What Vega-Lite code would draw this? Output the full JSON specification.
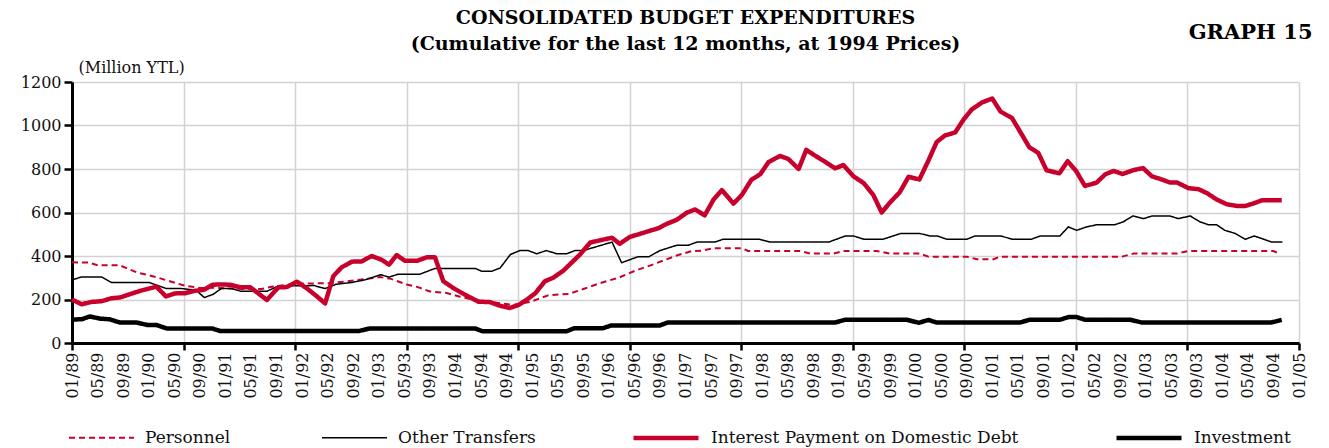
{
  "$schema": "https://vega.github.io/schema/vega-lite/v6.json",
  "width": 1227,
  "height": 261,
  "autosize": {"type": "none"},
  "padding": {"left": 72, "top": 82, "right": 30, "bottom": 105},
  "background": "white",
  "config": {"view": {"stroke": null}, "font": "DejaVu Serif"},
  "title": {
    "text": ["CONSOLIDATED BUDGET EXPENDITURES", "(Cumulative for the last 12 months, at 1994 Prices)"],
    "font": "DejaVu Serif", "fontSize": 19, "fontWeight": "bold", "color": "black",
    "anchor": "middle", "offset": -33, "lineHeight": 26
  },
  "data": {"values": [
    {"s":"Personnel","m":0,"v":371},{"s":"Personnel","m":2.6,"v":370},{"s":"Personnel","m":4.1,"v":357},{"s":"Personnel","m":7.5,"v":357},{"s":"Personnel","m":10.1,"v":325},{"s":"Personnel","m":12.9,"v":305},{"s":"Personnel","m":15.3,"v":284},{"s":"Personnel","m":17.6,"v":264},{"s":"Personnel","m":20.0,"v":253},{"s":"Personnel","m":22.4,"v":254},{"s":"Personnel","m":25.5,"v":249},{"s":"Personnel","m":29.6,"v":248},{"s":"Personnel","m":31.5,"v":260},{"s":"Personnel","m":35.8,"v":273},{"s":"Personnel","m":40.4,"v":275},{"s":"Personnel","m":44.6,"v":289},{"s":"Personnel","m":48.2,"v":303},{"s":"Personnel","m":49.9,"v":295},{"s":"Personnel","m":52.5,"v":268},{"s":"Personnel","m":54.0,"v":258},{"s":"Personnel","m":56.0,"v":237},{"s":"Personnel","m":58.6,"v":230},{"s":"Personnel","m":60.7,"v":213},{"s":"Personnel","m":62.8,"v":199},{"s":"Personnel","m":65.4,"v":188},{"s":"Personnel","m":69.0,"v":175},{"s":"Personnel","m":71.6,"v":188},{"s":"Personnel","m":74.5,"v":219},{"s":"Personnel","m":77.8,"v":226},{"s":"Personnel","m":80.0,"v":248},{"s":"Personnel","m":82.6,"v":275},{"s":"Personnel","m":85.7,"v":302},{"s":"Personnel","m":87.9,"v":330},{"s":"Personnel","m":91.0,"v":362},{"s":"Personnel","m":94.6,"v":402},{"s":"Personnel","m":97.0,"v":423},{"s":"Personnel","m":98.5,"v":424},{"s":"Personnel","m":100.4,"v":436},{"s":"Personnel","m":104.8,"v":436},{"s":"Personnel","m":105.8,"v":423},{"s":"Personnel","m":113.9,"v":423},{"s":"Personnel","m":115.5,"v":411},{"s":"Personnel","m":119.1,"v":411},{"s":"Personnel","m":120.7,"v":423},{"s":"Personnel","m":125.9,"v":423},{"s":"Personnel","m":128.0,"v":411},{"s":"Personnel","m":132.7,"v":411},{"s":"Personnel","m":134.0,"v":397},{"s":"Personnel","m":140.0,"v":397},{"s":"Personnel","m":141.6,"v":385},{"s":"Personnel","m":144.2,"v":385},{"s":"Personnel","m":145.2,"v":397},{"s":"Personnel","m":164.3,"v":397},{"s":"Personnel","m":166.1,"v":411},{"s":"Personnel","m":172.9,"v":411},{"s":"Personnel","m":174.7,"v":423},{"s":"Personnel","m":188.0,"v":423},{"s":"Personnel","m":189.0,"v":408},

    {"s":"Other Transfers","m":0,"v":290},{"s":"Other Transfers","m":1.5,"v":304},{"s":"Other Transfers","m":4.6,"v":304},{"s":"Other Transfers","m":6.2,"v":278},{"s":"Other Transfers","m":12.1,"v":278},{"s":"Other Transfers","m":14.7,"v":251},{"s":"Other Transfers","m":16.9,"v":251},{"s":"Other Transfers","m":18.8,"v":245},{"s":"Other Transfers","m":19.6,"v":238},{"s":"Other Transfers","m":20.7,"v":209},{"s":"Other Transfers","m":22.1,"v":224},{"s":"Other Transfers","m":23.4,"v":251},{"s":"Other Transfers","m":24.9,"v":251},{"s":"Other Transfers","m":26.4,"v":238},{"s":"Other Transfers","m":30.5,"v":238},{"s":"Other Transfers","m":32.3,"v":262},{"s":"Other Transfers","m":37.9,"v":264},{"s":"Other Transfers","m":39.6,"v":250},{"s":"Other Transfers","m":41.3,"v":270},{"s":"Other Transfers","m":43.7,"v":278},{"s":"Other Transfers","m":45.8,"v":290},{"s":"Other Transfers","m":48.3,"v":314},{"s":"Other Transfers","m":49.6,"v":303},{"s":"Other Transfers","m":51.0,"v":316},{"s":"Other Transfers","m":54.4,"v":316},{"s":"Other Transfers","m":56.8,"v":343},{"s":"Other Transfers","m":63.1,"v":343},{"s":"Other Transfers","m":64.1,"v":330},{"s":"Other Transfers","m":65.7,"v":330},{"s":"Other Transfers","m":67.0,"v":345},{"s":"Other Transfers","m":68.6,"v":407},{"s":"Other Transfers","m":70.1,"v":425},{"s":"Other Transfers","m":71.4,"v":425},{"s":"Other Transfers","m":72.7,"v":410},{"s":"Other Transfers","m":74.2,"v":425},{"s":"Other Transfers","m":75.9,"v":410},{"s":"Other Transfers","m":77.4,"v":410},{"s":"Other Transfers","m":78.7,"v":425},{"s":"Other Transfers","m":80.0,"v":425},{"s":"Other Transfers","m":84.5,"v":464},{"s":"Other Transfers","m":86.0,"v":369},{"s":"Other Transfers","m":88.6,"v":397},{"s":"Other Transfers","m":90.3,"v":397},{"s":"Other Transfers","m":92.0,"v":425},{"s":"Other Transfers","m":94.6,"v":449},{"s":"Other Transfers","m":96.4,"v":449},{"s":"Other Transfers","m":97.8,"v":464},{"s":"Other Transfers","m":100.6,"v":464},{"s":"Other Transfers","m":101.9,"v":477},{"s":"Other Transfers","m":107.6,"v":477},{"s":"Other Transfers","m":109.2,"v":464},{"s":"Other Transfers","m":118.4,"v":464},{"s":"Other Transfers","m":121.0,"v":492},{"s":"Other Transfers","m":122.3,"v":492},{"s":"Other Transfers","m":123.9,"v":477},{"s":"Other Transfers","m":126.9,"v":477},{"s":"Other Transfers","m":129.6,"v":503},{"s":"Other Transfers","m":132.7,"v":503},{"s":"Other Transfers","m":134.3,"v":492},{"s":"Other Transfers","m":135.4,"v":492},{"s":"Other Transfers","m":136.9,"v":477},{"s":"Other Transfers","m":140.0,"v":477},{"s":"Other Transfers","m":141.3,"v":492},{"s":"Other Transfers","m":145.3,"v":492},{"s":"Other Transfers","m":147.2,"v":477},{"s":"Other Transfers","m":150.1,"v":477},{"s":"Other Transfers","m":151.5,"v":492},{"s":"Other Transfers","m":154.6,"v":492},{"s":"Other Transfers","m":155.9,"v":534},{"s":"Other Transfers","m":157.2,"v":518},{"s":"Other Transfers","m":158.8,"v":534},{"s":"Other Transfers","m":160.4,"v":544},{"s":"Other Transfers","m":163.2,"v":544},{"s":"Other Transfers","m":164.5,"v":557},{"s":"Other Transfers","m":166.0,"v":584},{"s":"Other Transfers","m":167.7,"v":572},{"s":"Other Transfers","m":169.0,"v":584},{"s":"Other Transfers","m":171.8,"v":584},{"s":"Other Transfers","m":173.1,"v":572},{"s":"Other Transfers","m":175.0,"v":584},{"s":"Other Transfers","m":176.5,"v":557},{"s":"Other Transfers","m":177.8,"v":544},{"s":"Other Transfers","m":179.1,"v":544},{"s":"Other Transfers","m":180.4,"v":518},{"s":"Other Transfers","m":182.0,"v":504},{"s":"Other Transfers","m":183.6,"v":477},{"s":"Other Transfers","m":185.0,"v":492},{"s":"Other Transfers","m":186.5,"v":477},{"s":"Other Transfers","m":187.7,"v":464},{"s":"Other Transfers","m":189.4,"v":464},

    {"s":"Interest Payment on Domestic Debt","m":0,"v":200},{"s":"Interest Payment on Domestic Debt","m":1.5,"v":178},{"s":"Interest Payment on Domestic Debt","m":3.1,"v":189},{"s":"Interest Payment on Domestic Debt","m":4.6,"v":192},{"s":"Interest Payment on Domestic Debt","m":6.2,"v":206},{"s":"Interest Payment on Domestic Debt","m":7.5,"v":209},{"s":"Interest Payment on Domestic Debt","m":9.1,"v":225},{"s":"Interest Payment on Domestic Debt","m":10.6,"v":239},{"s":"Interest Payment on Domestic Debt","m":11.9,"v":249},{"s":"Interest Payment on Domestic Debt","m":13.2,"v":259},{"s":"Interest Payment on Domestic Debt","m":14.7,"v":214},{"s":"Interest Payment on Domestic Debt","m":16.1,"v":228},{"s":"Interest Payment on Domestic Debt","m":17.7,"v":229},{"s":"Interest Payment on Domestic Debt","m":19.2,"v":240},{"s":"Interest Payment on Domestic Debt","m":20.6,"v":244},{"s":"Interest Payment on Domestic Debt","m":22.0,"v":268},{"s":"Interest Payment on Domestic Debt","m":23.4,"v":269},{"s":"Interest Payment on Domestic Debt","m":24.7,"v":268},{"s":"Interest Payment on Domestic Debt","m":26.3,"v":256},{"s":"Interest Payment on Domestic Debt","m":27.9,"v":256},{"s":"Interest Payment on Domestic Debt","m":30.5,"v":198},{"s":"Interest Payment on Domestic Debt","m":32.3,"v":256},{"s":"Interest Payment on Domestic Debt","m":33.6,"v":257},{"s":"Interest Payment on Domestic Debt","m":35.2,"v":282},{"s":"Interest Payment on Domestic Debt","m":36.7,"v":252},{"s":"Interest Payment on Domestic Debt","m":38.3,"v":215},{"s":"Interest Payment on Domestic Debt","m":39.6,"v":182},{"s":"Interest Payment on Domestic Debt","m":40.9,"v":308},{"s":"Interest Payment on Domestic Debt","m":42.2,"v":348},{"s":"Interest Payment on Domestic Debt","m":43.8,"v":374},{"s":"Interest Payment on Domestic Debt","m":45.3,"v":375},{"s":"Interest Payment on Domestic Debt","m":46.9,"v":400},{"s":"Interest Payment on Domestic Debt","m":48.5,"v":382},{"s":"Interest Payment on Domestic Debt","m":49.6,"v":360},{"s":"Interest Payment on Domestic Debt","m":50.8,"v":404},{"s":"Interest Payment on Domestic Debt","m":52.1,"v":378},{"s":"Interest Payment on Domestic Debt","m":54.0,"v":378},{"s":"Interest Payment on Domestic Debt","m":55.5,"v":394},{"s":"Interest Payment on Domestic Debt","m":56.8,"v":394},{"s":"Interest Payment on Domestic Debt","m":58.1,"v":284},{"s":"Interest Payment on Domestic Debt","m":59.7,"v":252},{"s":"Interest Payment on Domestic Debt","m":61.5,"v":222},{"s":"Interest Payment on Domestic Debt","m":63.6,"v":190},{"s":"Interest Payment on Domestic Debt","m":65.4,"v":188},{"s":"Interest Payment on Domestic Debt","m":67.0,"v":171},{"s":"Interest Payment on Domestic Debt","m":68.5,"v":161},{"s":"Interest Payment on Domestic Debt","m":69.9,"v":175},{"s":"Interest Payment on Domestic Debt","m":71.2,"v":200},{"s":"Interest Payment on Domestic Debt","m":72.5,"v":229},{"s":"Interest Payment on Domestic Debt","m":74.0,"v":284},{"s":"Interest Payment on Domestic Debt","m":75.3,"v":300},{"s":"Interest Payment on Domestic Debt","m":76.9,"v":333},{"s":"Interest Payment on Domestic Debt","m":78.2,"v":370},{"s":"Interest Payment on Domestic Debt","m":79.5,"v":407},{"s":"Interest Payment on Domestic Debt","m":81.1,"v":462},{"s":"Interest Payment on Domestic Debt","m":82.6,"v":472},{"s":"Interest Payment on Domestic Debt","m":84.5,"v":484},{"s":"Interest Payment on Domestic Debt","m":85.7,"v":456},{"s":"Interest Payment on Domestic Debt","m":87.3,"v":488},{"s":"Interest Payment on Domestic Debt","m":88.9,"v":502},{"s":"Interest Payment on Domestic Debt","m":90.2,"v":514},{"s":"Interest Payment on Domestic Debt","m":91.8,"v":528},{"s":"Interest Payment on Domestic Debt","m":93.0,"v":547},{"s":"Interest Payment on Domestic Debt","m":94.6,"v":566},{"s":"Interest Payment on Domestic Debt","m":96.2,"v":599},{"s":"Interest Payment on Domestic Debt","m":97.5,"v":614},{"s":"Interest Payment on Domestic Debt","m":99.0,"v":587},{"s":"Interest Payment on Domestic Debt","m":100.4,"v":660},{"s":"Interest Payment on Domestic Debt","m":101.7,"v":703},{"s":"Interest Payment on Domestic Debt","m":103.5,"v":641},{"s":"Interest Payment on Domestic Debt","m":104.8,"v":680},{"s":"Interest Payment on Domestic Debt","m":106.3,"v":750},{"s":"Interest Payment on Domestic Debt","m":107.7,"v":776},{"s":"Interest Payment on Domestic Debt","m":109.0,"v":832},{"s":"Interest Payment on Domestic Debt","m":110.8,"v":860},{"s":"Interest Payment on Domestic Debt","m":112.1,"v":846},{"s":"Interest Payment on Domestic Debt","m":113.7,"v":800},{"s":"Interest Payment on Domestic Debt","m":114.9,"v":888},{"s":"Interest Payment on Domestic Debt","m":116.3,"v":861},{"s":"Interest Payment on Domestic Debt","m":117.8,"v":834},{"s":"Interest Payment on Domestic Debt","m":119.4,"v":803},{"s":"Interest Payment on Domestic Debt","m":120.7,"v":818},{"s":"Interest Payment on Domestic Debt","m":122.3,"v":766},{"s":"Interest Payment on Domestic Debt","m":123.9,"v":735},{"s":"Interest Payment on Domestic Debt","m":125.4,"v":680},{"s":"Interest Payment on Domestic Debt","m":126.7,"v":600},{"s":"Interest Payment on Domestic Debt","m":128.0,"v":646},{"s":"Interest Payment on Domestic Debt","m":129.5,"v":692},{"s":"Interest Payment on Domestic Debt","m":130.9,"v":764},{"s":"Interest Payment on Domestic Debt","m":132.6,"v":752},{"s":"Interest Payment on Domestic Debt","m":134.0,"v":838},{"s":"Interest Payment on Domestic Debt","m":135.3,"v":924},{"s":"Interest Payment on Domestic Debt","m":136.6,"v":954},{"s":"Interest Payment on Domestic Debt","m":138.2,"v":968},{"s":"Interest Payment on Domestic Debt","m":139.5,"v":1027},{"s":"Interest Payment on Domestic Debt","m":140.8,"v":1074},{"s":"Interest Payment on Domestic Debt","m":142.4,"v":1106},{"s":"Interest Payment on Domestic Debt","m":144.0,"v":1124},{"s":"Interest Payment on Domestic Debt","m":145.3,"v":1064},{"s":"Interest Payment on Domestic Debt","m":147.1,"v":1034},{"s":"Interest Payment on Domestic Debt","m":149.8,"v":900},{"s":"Interest Payment on Domestic Debt","m":151.2,"v":874},{"s":"Interest Payment on Domestic Debt","m":152.5,"v":794},{"s":"Interest Payment on Domestic Debt","m":154.5,"v":780},{"s":"Interest Payment on Domestic Debt","m":155.8,"v":836},{"s":"Interest Payment on Domestic Debt","m":157.1,"v":792},{"s":"Interest Payment on Domestic Debt","m":158.5,"v":722},{"s":"Interest Payment on Domestic Debt","m":160.3,"v":737},{"s":"Interest Payment on Domestic Debt","m":161.7,"v":776},{"s":"Interest Payment on Domestic Debt","m":163.0,"v":791},{"s":"Interest Payment on Domestic Debt","m":164.4,"v":777},{"s":"Interest Payment on Domestic Debt","m":166.1,"v":795},{"s":"Interest Payment on Domestic Debt","m":167.6,"v":804},{"s":"Interest Payment on Domestic Debt","m":169.0,"v":766},{"s":"Interest Payment on Domestic Debt","m":170.3,"v":754},{"s":"Interest Payment on Domestic Debt","m":171.8,"v":738},{"s":"Interest Payment on Domestic Debt","m":172.9,"v":738},{"s":"Interest Payment on Domestic Debt","m":174.7,"v":712},{"s":"Interest Payment on Domestic Debt","m":176.3,"v":707},{"s":"Interest Payment on Domestic Debt","m":177.6,"v":689},{"s":"Interest Payment on Domestic Debt","m":179.1,"v":660},{"s":"Interest Payment on Domestic Debt","m":180.7,"v":638},{"s":"Interest Payment on Domestic Debt","m":182.3,"v":630},{"s":"Interest Payment on Domestic Debt","m":183.6,"v":630},{"s":"Interest Payment on Domestic Debt","m":184.9,"v":642},{"s":"Interest Payment on Domestic Debt","m":186.2,"v":656},{"s":"Interest Payment on Domestic Debt","m":187.8,"v":656},{"s":"Interest Payment on Domestic Debt","m":189.3,"v":656},

    {"s":"Investment","m":0,"v":108},{"s":"Investment","m":1.5,"v":109},{"s":"Investment","m":2.8,"v":122},{"s":"Investment","m":4.4,"v":112},{"s":"Investment","m":5.9,"v":109},{"s":"Investment","m":7.5,"v":94},{"s":"Investment","m":10.1,"v":94},{"s":"Investment","m":11.8,"v":83},{"s":"Investment","m":13.2,"v":83},{"s":"Investment","m":14.8,"v":67},{"s":"Investment","m":21.9,"v":67},{"s":"Investment","m":23.2,"v":55},{"s":"Investment","m":44.9,"v":55},{"s":"Investment","m":46.6,"v":67},{"s":"Investment","m":63.1,"v":67},{"s":"Investment","m":64.2,"v":54},{"s":"Investment","m":77.4,"v":54},{"s":"Investment","m":78.6,"v":68},{"s":"Investment","m":83.1,"v":68},{"s":"Investment","m":84.4,"v":81},{"s":"Investment","m":92.0,"v":81},{"s":"Investment","m":93.2,"v":94},{"s":"Investment","m":119.4,"v":94},{"s":"Investment","m":121.0,"v":107},{"s":"Investment","m":130.6,"v":107},{"s":"Investment","m":132.5,"v":93},{"s":"Investment","m":134.0,"v":106},{"s":"Investment","m":135.3,"v":94},{"s":"Investment","m":148.3,"v":94},{"s":"Investment","m":149.9,"v":107},{"s":"Investment","m":154.6,"v":107},{"s":"Investment","m":155.9,"v":119},{"s":"Investment","m":157.2,"v":119},{"s":"Investment","m":158.5,"v":107},{"s":"Investment","m":165.6,"v":107},{"s":"Investment","m":167.4,"v":94},{"s":"Investment","m":187.6,"v":94},{"s":"Investment","m":189.3,"v":106}
  ]},
  "resolve": {"axis": {"x": "independent", "y": "independent"}},
  "layer": [
    {
      "mark": {"type": "line", "opacity": 0},
      "encoding": {
        "x": {"field": "m", "type": "quantitative", "scale": {"domain": [0, 192], "nice": false, "zero": false},
          "axis": {"orient": "bottom", "values": [0, 17.4545, 34.9091, 52.3636, 69.8182, 87.2727, 104.7273, 122.1818, 139.6364, 157.0909, 174.5455, 192],
            "labels": false, "domain": false, "ticks": true, "tickSize": 7, "tickWidth": 2.5, "tickColor": "black",
            "grid": true, "gridColor": "#d2d2d2", "gridWidth": 1.5, "title": null}},
        "y": {"field": "v", "type": "quantitative", "scale": {"domain": [0, 1200], "nice": false},
          "axis": {"orient": "left", "values": [0, 200, 400, 600, 800, 1000, 1200], "format": "d", "grid": true, "gridColor": "#d2d2d2", "gridWidth": 1.5,
            "domain": true, "domainColor": "black", "domainWidth": 3, "ticks": true, "tickColor": "black", "tickWidth": 2.5, "tickSize": 8,
            "labelFont": "DejaVu Serif", "labelFontSize": 16, "labelColor": "#111111", "labelPadding": 3,
            "title": "(Million YTL)", "titleAngle": 0, "titleAlign": "left", "titleBaseline": "alphabetic", "titleX": 6, "titleY": -10,
            "titleFont": "DejaVu Serif", "titleFontSize": 16, "titleFontWeight": "normal", "titleColor": "#111111"}},
        "detail": {"field": "s"}
      }
    },
    {
      "mark": {"type": "line", "strokeJoin": "round"},
      "encoding": {
        "x": {"field": "m", "type": "quantitative",
          "axis": {"orient": "bottom", "values": [0,4,8,12,16,20,24,28,32,36,40,44,48,52,56,60,64,68,72,76,80,84,88,92,96,100,104,108,112,116,120,124,128,132,136,140,144,148,152,156,160,164,168,172,176,180,184,188,192],
            "labelExpr": "(datum.value % 12 < 9 ? '0' : '') + (datum.value % 12 + 1) + '/' + ((89 + floor(datum.value / 12)) % 100 < 10 ? '0' : '') + ((89 + floor(datum.value / 12)) % 100)",
            "labelAngle": 270, "labelOverlap": false, "labelFont": "DejaVu Serif", "labelFontSize": 16, "labelColor": "#111111", "labelPadding": 9,
            "ticks": false, "grid": false, "domain": true, "domainColor": "black", "domainWidth": 3, "title": null}},
        "y": {"field": "v", "type": "quantitative", "axis": null},
        "color": {"field": "s", "type": "nominal",
          "scale": {"domain": ["Personnel", "Other Transfers", "Interest Payment on Domestic Debt", "Investment"], "range": ["#c8002c", "#000000", "#c8002c", "#000000"]},
          "legend": {"title": null, "orient": "none", "legendX": -4, "legendY": 321, "direction": "horizontal",
            "symbolType": "stroke", "symbolSize": 4225, "labelFont": "DejaVu Serif", "labelFontSize": 17, "labelColor": "#111111",
            "labelLimit": 500, "labelOffset": 10, "columnPadding": 88}},
        "strokeDash": {"field": "s", "type": "nominal",
          "scale": {"domain": ["Personnel", "Other Transfers", "Interest Payment on Domestic Debt", "Investment"], "range": [[6, 4], [1, 0], [1, 0], [1, 0]]}},
        "strokeWidth": {"field": "s", "type": "nominal",
          "scale": {"type": "ordinal", "domain": ["Personnel", "Other Transfers", "Interest Payment on Domestic Debt", "Investment"], "range": [2, 1.5, 4.5, 4.5]}}
      }
    },
    {
      "mark": {"type": "line", "opacity": 0},
      "encoding": {
        "x": {"field": "m", "type": "quantitative",
          "axis": {"orient": "top", "labels": false, "ticks": false, "domain": false, "grid": false,
            "title": "GRAPH 15", "titleFont": "DejaVu Serif", "titleFontSize": 21, "titleFontWeight": "bold", "titleColor": "black",
            "titleAnchor": "end", "titleAlign": "right", "titleBaseline": "alphabetic", "titleX": 1240, "titleY": -44, "titleAngle": 0}},
        "y": {"field": "v", "type": "quantitative", "axis": null},
        "detail": {"field": "s"}
      }
    }
  ]
}
